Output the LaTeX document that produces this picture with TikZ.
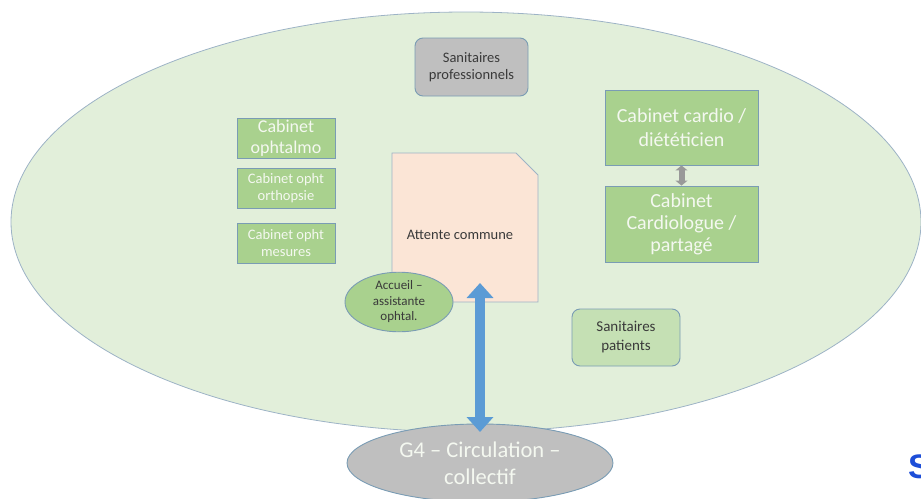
\documentclass[tikz,border=0pt]{standalone}
\usepackage{fontspec}
\setmainfont{Carlito}
\newfontfamily\logofont{Liberation Sans}
\usetikzlibrary{arrows.meta,shapes.geometric}
\definecolor{zonefill}{HTML}{E2EFDA}
\definecolor{zoneline}{HTML}{9DB3C6}
\definecolor{boxgreen}{HTML}{A9D18E}
\definecolor{paleGreen}{HTML}{C5E0B4}
\definecolor{boxline}{HTML}{7A9CB4}
\definecolor{greyfill}{HTML}{BFBFBF}
\definecolor{peach}{HTML}{FBE5D6}
\definecolor{flowblue}{HTML}{5B9BD5}
\definecolor{darktext}{HTML}{3A3A3A}
\definecolor{roomtext}{HTML}{F4F8F0}
\definecolor{brandblue}{HTML}{1D4ED8}
\tikzset{
  room/.style={draw=boxline, line width=0.9pt, fill=boxgreen, text=roomtext,
    align=center, inner sep=0pt},
  wc/.style={draw=boxline, line width=0.9pt, rounded corners=8pt,
    align=center, text=darktext, inner sep=0pt},
  fs/.style args={#1/#2}{font=\fontsize{#1}{#2}\selectfont}
}
\begin{document}
\begin{tikzpicture}[x=1pt,y=-1pt]
\useasboundingbox (0,0) rectangle (921,498);

% outer zone
\node[ellipse, draw=zoneline, line width=0.8pt, fill=zonefill,
  minimum width=910pt, minimum height=420pt, inner sep=0pt] (zone) at (466,222) {};

% circulation
\node[ellipse, draw=boxline, line width=0.9pt, fill=greyfill, text=roomtext,
  minimum width=266pt, minimum height=78pt, inner sep=0pt, align=center,
  fs=22.5/27] (g4) at (480,463) {G4 -- Circulation --\\collectif};

% toilets
\node[wc, fill=greyfill, minimum width=113pt, minimum height=58pt, fs=14.5/17]
  (sanpro) at (471.5,67) {Sanitaires\\professionnels};
\node[wc, fill=paleGreen, minimum width=108pt, minimum height=57pt, fs=15/19]
  (sanpat) at (626,337.5) {Sanitaires\\patients};

% ophthalmology rooms
\node[room, minimum width=98pt, minimum height=40pt, fs=18/21]
  (ophtalmo) at (286,138) {Cabinet\\ophtalmo};
\node[room, minimum width=98pt, minimum height=40pt, fs=14.5/17]
  (orthop) at (286,188) {Cabinet opht\\orthopsie};
\node[room, minimum width=98pt, minimum height=40pt, fs=14.5/17]
  (mesures) at (286,243) {Cabinet opht\\mesures};

% cardiology rooms
\node[room, minimum width=153pt, minimum height=75pt, fs=20/24]
  (cardio) at (681.5,127.5) {Cabinet cardio /\\diététicien};
\node[room, minimum width=153pt, minimum height=76pt, fs=20/22]
  (cardiol) at (681.5,224) {Cabinet\\Cardiologue /\\partagé};
\draw[draw=greyfill!80!black, line width=6pt,
  {Triangle[width=12pt,length=5pt]}-{Triangle[width=12pt,length=5pt]}]
  (cardio.south) -- (cardiol.north);

% shared waiting room (snipped corner)
\draw[draw=zoneline, line width=0.9pt, fill=peach]
  (392,153) -- (516,153) -- (538,175) -- (538,302) -- (392,302) -- cycle;
\node[text=darktext, fs=14.5/17] (attente) at (460,235) {Attente commune};

% reception
\node[ellipse, draw=boxline, line width=0.9pt, fill=boxgreen, text=darktext,
  minimum width=108pt, minimum height=46pt, inner sep=0pt, align=center,
  fs=13/15.5] (accueil) at (399,302) {Accueil --\\assistante\\ophtal.};

% main flow
\coordinate (flowtop) at (480,283);
\coordinate (flowbot) at (480,432);
\draw[flowblue, line width=10pt,
  {Triangle[width=26pt,length=15pt]}-{Triangle[width=26pt,length=15pt]}]
  (flowtop) -- (flowbot);

% logo fragment at the page edge
\node[anchor=north west, inner sep=0pt, text=brandblue,
  font=\logofont\bfseries\fontsize{34}{34}\selectfont] (logo) at (908,455) {S};
\end{tikzpicture}
\end{document}
